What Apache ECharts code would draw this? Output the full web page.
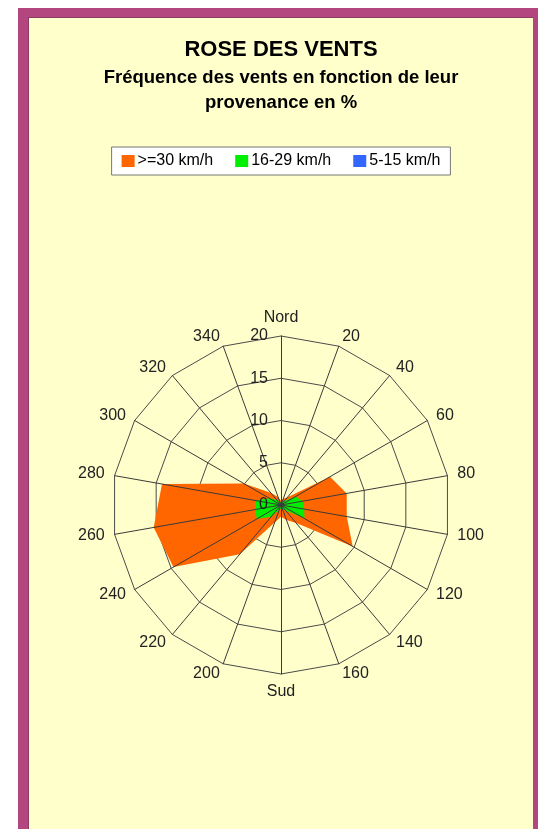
<!DOCTYPE html>
<html>
<head>
<meta charset="utf-8">
<style>
  html, body { margin: 0; padding: 0; background: #ffffff; overflow: hidden; }
  #frame {
    position: absolute; left: 18px; top: 8px; width: 505px; height: 900px;
    background: #ffffcc; border: 10px solid #b3467f; border-top-width: 9px;
    box-shadow: inset 1px 1px 0 #8c3a62;
  }
  /* wider than the window so that 'center' lands on x = 281, the middle of the frame */
  #chart { position: absolute; left: 0; top: 0; width: 562px; height: 829px; }
</style>
<script src="https://cdn.jsdelivr.net/npm/echarts@6.0.0/dist/echarts.min.js"></script>
</head>
<body>
<div id="frame"></div>
<div id="chart"></div>
<script>
  // directions in degrees, clockwise from north
  var directions = [0, 20, 40, 60, 80, 100, 120, 140, 160, 180, 200, 220, 240, 260, 280, 300, 320, 340];
  var dirLabels = ['Nord', '20', '40', '60', '80', '100', '120', '140', '160', 'Sud',
                   '200', '220', '240', '260', '280', '300', '320', '340'];
  var radialTicks = [0, 5, 10, 15, 20];

  var seriesNames = ['>=30 km/h', '16-29 km/h', '5-15 km/h'];
  var seriesColors = ['#ff6600', '#00ee00', '#3366ff'];

  // frequency in %, one value per direction
  var ventFort   = [0.5, 0.8, 1.2, 6.7, 7.9, 7.9, 9.8, 2.8, 1.9, 1.4, 2.2, 7.6, 14.7, 15.3, 14.3, 5.1, 1.9, 1.0];
  var ventMoyen  = [0.3, 0.4, 0.6, 2.0, 2.6, 2.8, 3.2, 0.8, 0.5, 0.4, 0.6, 1.8, 3.3, 3.1, 3.1, 1.6, 0.8, 0.4];
  var ventFaible = [0.1, 0.1, 0.1, 0.2, 0.2, 0.2, 0.2, 0.1, 0.1, 0.1, 0.1, 0.2, 0.2, 0.2, 0.2, 0.1, 0.1, 0.1];

  var font = '"Liberation Sans", Arial, sans-serif';
  var cx = 281, cy = 505, R = 169;
  var rMax = radialTicks[radialTicks.length - 1];

  // the radar turns counter-clockwise, the wind rose clockwise: keep north first, reverse the rest
  function clockwise(arr) {
    return [arr[0]].concat(arr.slice(1).reverse());
  }

  var indicators = clockwise(dirLabels).map(function (n) {
    return { name: n, min: 0, max: rMax };
  });

  function areaSeries(i, values) {
    return {
      name: seriesNames[i], type: 'radar', radarIndex: 0, symbol: 'none',
      itemStyle: { color: seriesColors[i] },
      lineStyle: { width: 0 },
      areaStyle: { color: seriesColors[i], opacity: 1 },
      data: [{ value: clockwise(values), name: seriesNames[i] }]
    };
  }

  var chart = echarts.init(document.getElementById('chart'));

  var option = {
    backgroundColor: 'transparent',
    animation: false,
    title: [
      {
        text: 'ROSE DES VENTS',
        left: 'center', top: 39, padding: 0,
        textStyle: { fontFamily: font, fontSize: 22, fontWeight: 'bold', color: '#000' }
      },
      {
        text: 'Fréquence des vents en fonction de leur',
        left: 'center', top: 68, padding: 0,
        textStyle: { fontFamily: font, fontSize: 18.5, fontWeight: 'bold', color: '#000' }
      },
      {
        text: 'provenance en %',
        left: 'center', top: 93, padding: 0,
        textStyle: { fontFamily: font, fontSize: 18.5, fontWeight: 'bold', color: '#000' }
      }
    ],
    legend: {
      top: 147, left: 'center',
      data: seriesNames,
      icon: 'rect', itemWidth: 13, itemHeight: 12, itemGap: 22,
      backgroundColor: '#ffffff', borderColor: '#777', borderWidth: 1, borderRadius: 0,
      padding: [6, 10],
      textStyle: { fontFamily: font, fontSize: 16, color: '#000', padding: [0, 0, 0, -2] }
    },
    radar: [
      {
        // rings and direction names
        center: [cx, cy], radius: R, startAngle: 90,
        shape: 'polygon', splitNumber: radialTicks.length - 1,
        indicator: indicators,
        nameGap: 10,
        axisName: { fontFamily: font, fontSize: 16, color: '#222' },
        splitLine: { lineStyle: { color: '#4a4a4a', width: 1 } },
        splitArea: { show: false },
        axisLine: { show: false },
        axisTick: { show: false },
        axisLabel: { show: false }
      },
      {
        // spokes, drawn over the filled areas
        center: [cx, cy], radius: R, startAngle: 90, z: 5,
        shape: 'polygon', splitNumber: radialTicks.length - 1,
        indicator: indicators,
        axisName: { show: false },
        splitLine: { show: false },
        splitArea: { show: false },
        axisLine: { lineStyle: { color: '#3a3a3a', width: 1 } },
        axisTick: { show: false },
        axisLabel: { show: false }
      }
    ],
    // only used for the 0..20 scale written along the north spoke
    polar: { center: [cx, cy], radius: R },
    angleAxis: { type: 'value', startAngle: 90, min: 0, max: 360, show: false },
    radiusAxis: {
      type: 'value', min: 0, max: rMax, interval: radialTicks[1] - radialTicks[0], z: 10,
      axisLine: { show: false }, axisTick: { show: false }, splitLine: { show: false },
      axisLabel: { fontFamily: font, fontSize: 16, color: '#222', margin: 13 }
    },
    series: [
      areaSeries(0, ventFort),
      areaSeries(1, ventMoyen),
      areaSeries(2, ventFaible)
    ]
  };

  chart.setOption(option);
</script>
</body>
</html>
